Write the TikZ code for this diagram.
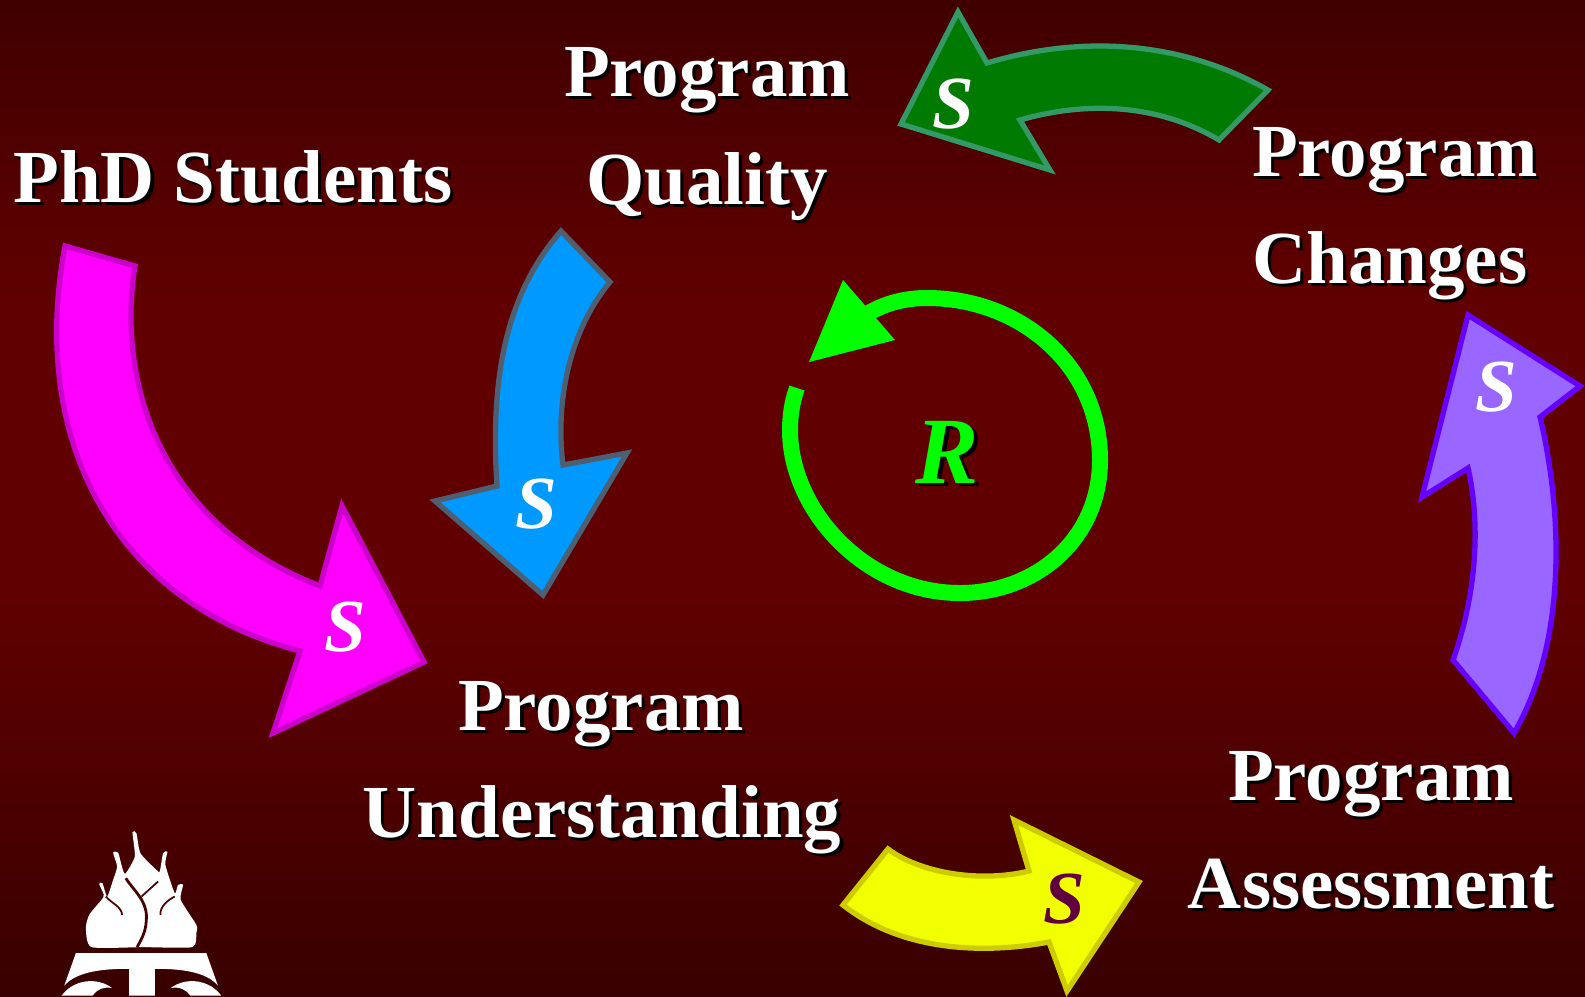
\documentclass[tikz,border=0pt]{standalone}
\usepackage{fontspec}
\setmainfont{Liberation Serif}
\definecolor{bgdark}{HTML}{400000}
\definecolor{bglow}{HTML}{380000}
\definecolor{bgmid}{HTML}{600000}
\definecolor{bgvein}{HTML}{480000}
\definecolor{magentaline}{HTML}{CC00CC}
\definecolor{magentafill}{HTML}{FF00FF}
\definecolor{blueline}{HTML}{4D5F70}
\definecolor{bluefill}{HTML}{0099FF}
\definecolor{greenline}{HTML}{339966}
\definecolor{greenfill}{HTML}{007A00}
\definecolor{yellowline}{HTML}{CCCC00}
\definecolor{yellowfill}{HTML}{F2FF00}
\definecolor{purpleline}{HTML}{6600FF}
\definecolor{purplefill}{HTML}{9966FF}
\definecolor{ringgreen}{HTML}{00FF00}
\definecolor{smark}{HTML}{600040}
\pgfdeclareverticalshading{backdrop}{100bp}{color(0bp)=(bglow); color(25bp)=(bglow); color(45bp)=(bgmid); color(60bp)=(bgmid); color(75bp)=(bgdark); color(100bp)=(bgdark)}
\newcommand{\shadowed}[2][0.9pt]{\rlap{\kern#1\raisebox{-#1}{\color{black}#2}}#2}

\begin{document}
\begin{tikzpicture}[x=0.01cm,y=-0.01cm,line join=miter,
    textlabel/.style={text=white,anchor=base,inner sep=0pt,font=\fontsize{21.3}{24}\selectfont\bfseries},
    marks/.style={text=white,anchor=base,inner sep=0pt,font=\fontsize{21.3}{24}\selectfont\bfseries\itshape},
    band/.style={line width=1.5pt},
    logo/.style={fill=white,draw=none}]
  \useasboundingbox (0,0) rectangle (1585,996);
  \shade[shading=backdrop] (0,0) rectangle (1585,996);

  % arrows
  \draw[band,draw=magentaline,fill=magentafill] (65,246) -- (135,266)
    .. controls (118,370) and (150,520) .. (320,586) -- (342,506) -- (424,662) -- (273,733) -- (300,651)
    .. controls (105,600) and (30,430) .. cycle;
  \draw[band,draw=blueline,fill=bluefill] (561,231) -- (610,282)
    .. controls (570,330) and (555,400) .. (563,465) -- (627,453) -- (543,595) -- (435,501) -- (497,486)
    .. controls (490,380) and (505,295) .. cycle;
  \draw[band,draw=greenline,fill=greenfill] (958,12) -- (987,63)
    .. controls (1080,35) and (1180,40) .. (1268,90) -- (1219,140)
    .. controls (1160,105) and (1090,100) .. (1020,120) -- (1050,170) -- (901,124) -- cycle;
  \draw[band,draw=yellowline,fill=yellowfill] (888,849)
    .. controls (920,873) and (980,883) .. (1029,871) -- (1014,820) -- (1139,882) -- (1067,991) -- (1049,942)
    .. controls (980,955) and (900,950) .. (843,905) -- cycle;
  \draw[band,draw=purpleline,fill=purplefill] (1514,733) -- (1453,660)
    .. controls (1478,590) and (1480,520) .. (1468,468) -- (1422,497) -- (1468,315) -- (1580,386) -- (1540,417)
    .. controls (1562,510) and (1568,640) .. cycle;

  % loop
  \draw[ringgreen,line width=4.55pt] (797,388) .. controls (792,402) and (790,416) .. (790,430)
    .. controls (790,510) and (865,593) .. (960,593)
    .. controls (1035,593) and (1100,540) .. (1100,460)
    .. controls (1100,365) and (1020,298) .. (927,298)
    .. controls (905,298) and (885,303) .. (865,315);
  \fill[ringgreen] (843,280) -- (895,340) -- (809,362) -- cycle;

  % texts
  \node[textlabel] (phd) at (233,202) {\shadowed{PhD Students}};
  \node[textlabel] (quality1) at (707,96) {\shadowed{Program}};
  \node[textlabel] (quality2) at (707,204) {\shadowed{Quality}};
  \node[textlabel] (changes1) at (1395,176) {\shadowed{Program}};
  \node[textlabel] (changes2) at (1390,283) {\shadowed{Changes}};
  \node[textlabel] (under1) at (601,730) {\shadowed{Program}};
  \node[textlabel] (under2) at (602,837) {\shadowed{Understanding}};
  \node[textlabel] (assess1) at (1371,800) {\shadowed{Program}};
  \node[textlabel] (assess2) at (1371,908) {\shadowed{Assessment}};

  \node[marks] (s1) at (345,651) {S};
  \node[marks] (s2) at (536,528) {S};
  \node[marks] (s3) at (953,128) {S};
  \node[marks] (s4) at (1496,411) {S};
  \node[marks,text=smark] (s5) at (1064,923) {S};
  \node[marks,text=ringgreen,font=\fontsize{27}{30}\selectfont\bfseries\itshape] (r) at (947,483) {\shadowed[1.1pt]{R}};

  % logo
  \begin{scope}[shift={(0,800)},x=0.00333cm,y=-0.00333cm]
    \clip (0,0) rectangle (900,588);
    \fill[logo] plot[smooth cycle,tension=0.35] coordinates {(275,442) (258,385) (268,345) (305,300) (312,285) (298,252) (308,250)
      (322,290) (340,240) (352,200) (340,158) (355,158) (365,195) (376,222) (405,170) (398,97) (410,100)
      (422,160) (470,210) (480,215) (490,160) (503,155) (497,195) (525,280) (535,255) (550,255) (543,300)
      (590,375) (590,400) (578,442) (430,442)};
    \draw[bgvein,line width=0.8pt] (378,235) .. controls (400,270) and (440,300) .. (440,350) .. controls (440,390) and (430,410) .. (412,442);
    \draw[bgvein,line width=0.5pt] (475,245) -- (425,290);
    \draw[bgvein,line width=0.5pt] (318,290) .. controls (335,310) and (365,320) .. (367,345);
    \draw[bgvein,line width=0.5pt] (525,290) .. controls (505,300) and (480,320) .. (482,345);
    \fill[logo] (228,460) -- (620,460) -- (655,558) .. controls (620,515) and (540,507) .. (465,507) -- (465,588) -- (388,588) -- (388,507)
      .. controls (310,507) and (230,515) .. (193,558) -- cycle;
    \fill[logo] (185,588) .. controls (220,540) and (290,530) .. (337,565) .. controls (310,560) and (290,570) .. (278,588) -- cycle;
    \fill[logo] (665,588) .. controls (630,540) and (560,530) .. (513,565) .. controls (540,560) and (560,570) .. (572,588) -- cycle;
  \end{scope}
\end{tikzpicture}
\end{document}
